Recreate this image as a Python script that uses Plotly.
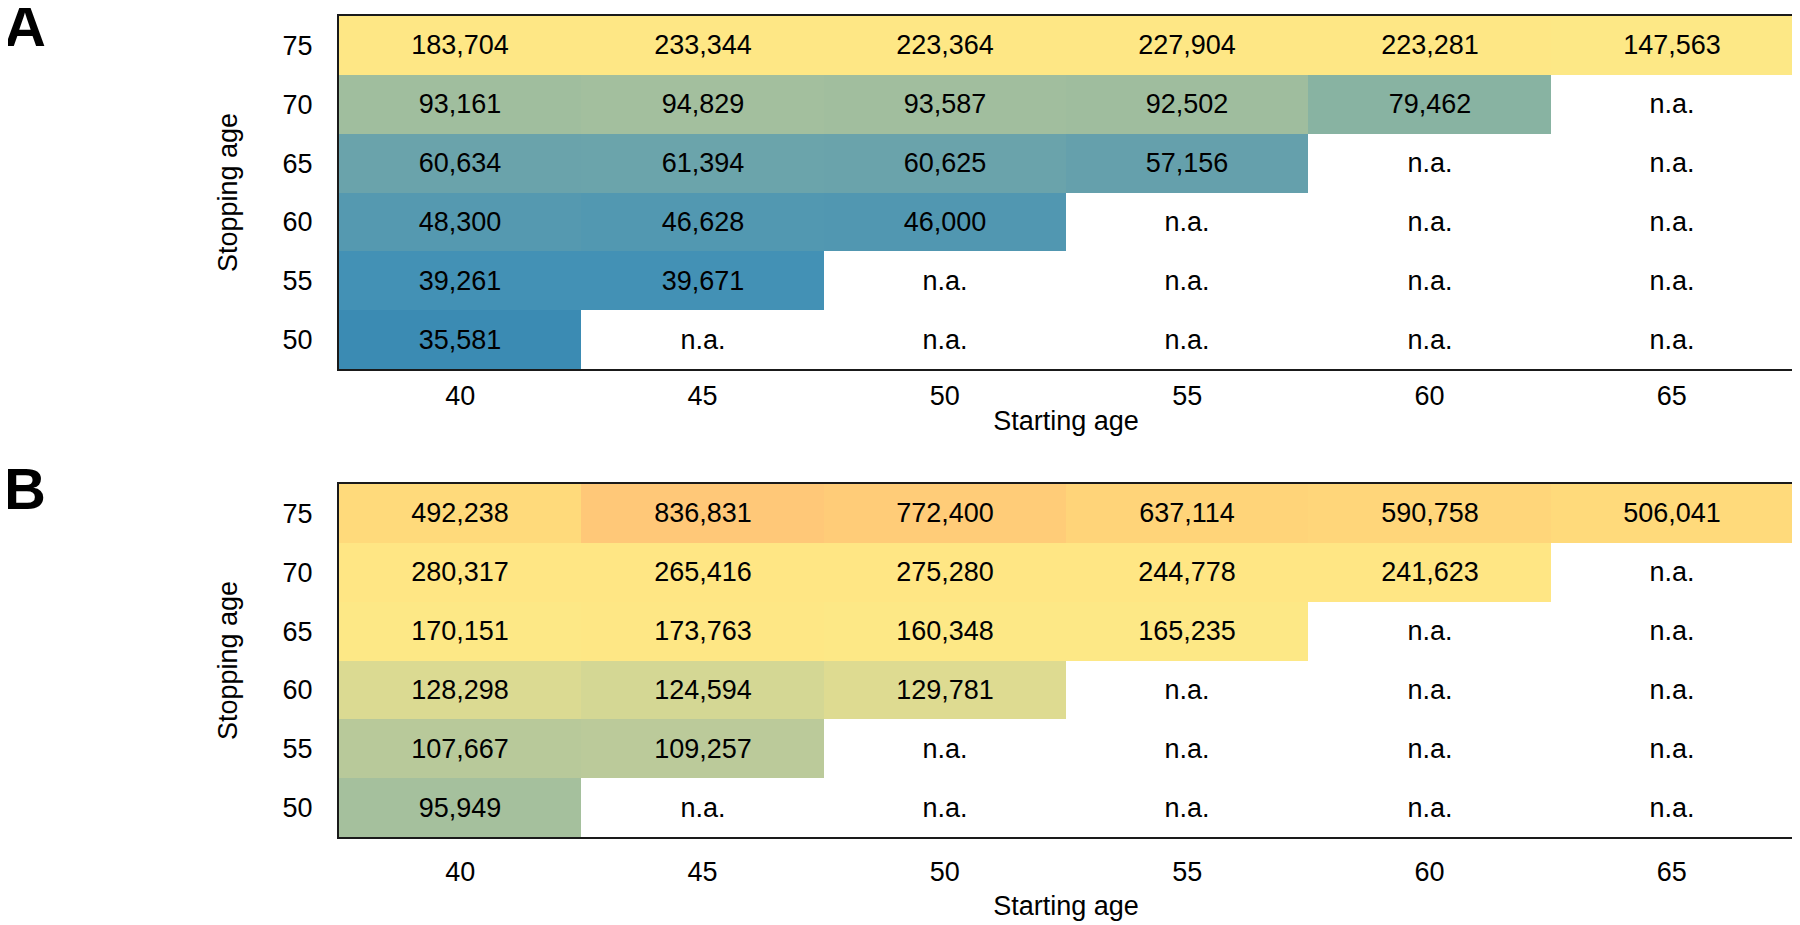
import numpy as np
import plotly.graph_objects as go

# ages
start_ages = ["40", "45", "50", "55", "60", "65"]
stop_ages = ["50", "55", "60", "65", "70", "75"]

# panel A values (rows = stopping age 50..75, cols = starting age 40..65)
a_50 = [35581, None, None, None, None, None]
a_55 = [39261, 39671, None, None, None, None]
a_60 = [48300, 46628, 46000, None, None, None]
a_65 = [60634, 61394, 60625, 57156, None, None]
a_70 = [93161, 94829, 93587, 92502, 79462, None]
a_75 = [183704, 233344, 223364, 227904, 223281, 147563]

# panel B values
b_50 = [95949, None, None, None, None, None]
b_55 = [107667, 109257, None, None, None, None]
b_60 = [128298, 124594, 129781, None, None, None]
b_65 = [170151, 173763, 160348, 165235, None, None]
b_70 = [280317, 265416, 275280, 244778, 241623, None]
b_75 = [492238, 836831, 772400, 637114, 590758, 506041]

panel_a = [a_50, a_55, a_60, a_65, a_70, a_75]
panel_b = [b_50, b_55, b_60, b_65, b_70, b_75]

# log colour scale shared by both panels
zmin, zmax = np.log10(35000), np.log10(840000)
anchors = [
    (35000, "#3a8ab3"), (39500, "#4391b5"), (47000, "#5398b1"),
    (60600, "#6aa3ab"), (79462, "#88b3a2"), (93500, "#a1be9e"),
    (108000, "#b9c99a"), (127000, "#d8d993"), (145000, "#fde886"),
    (280000, "#ffe684"), (500000, "#ffda7b"), (636000, "#ffd479"),
    (840000, "#ffc878"),
]
colorscale = [[(np.log10(v) - zmin) / (zmax - zmin), c] for v, c in anchors]
colorscale[0][0] = 0.0
colorscale[-1][0] = 1.0

FONT = "Liberation Sans, Arial, sans-serif"
FS = 27

# page is drawn with the browser's 8px body margin, so the figure is 8px smaller
W, H = 1792, 917


def make_trace(rows, xa, ya):
    z = [[np.log10(v) if v is not None else None for v in r] for r in rows]
    txt = [[f"{v:,}" if v is not None else "n.a." for v in r] for r in rows]
    return go.Heatmap(
        x=start_ages, y=stop_ages, z=z, text=txt,
        texttemplate="%{text}", textfont=dict(size=FS, color="black", family=FONT),
        colorscale=colorscale, zmin=zmin, zmax=zmax, showscale=False,
        hoverinfo="skip", xaxis=xa, yaxis=ya,
    )


fig = go.Figure()
fig.add_trace(make_trace(panel_a, "x", "y"))
fig.add_trace(make_trace(panel_b, "x2", "y2"))

ax_common = dict(
    type="category", showline=True, mirror=True, linecolor="#1a1a1a", linewidth=2,
    showgrid=False, zeroline=False, ticks="",
    tickfont=dict(size=FS, color="black", family=FONT),
)
xdom = [331 / W, 1785 / W]

fig.update_layout(
    width=W, height=H,
    margin=dict(l=0, r=0, t=0, b=0),
    paper_bgcolor="white", plot_bgcolor="white",
    font=dict(family=FONT, color="black"),
    xaxis=dict(ax_common, domain=xdom, anchor="y", ticklabelstandoff=2,
               title=dict(text="Starting age", font=dict(size=FS), standoff=1)),
    yaxis=dict(ax_common, domain=[1 - 361 / H, 1 - 8 / H], anchor="x", ticklabelstandoff=19,
               title=dict(text="Stopping age", font=dict(size=FS), standoff=37)),
    xaxis2=dict(ax_common, domain=xdom, anchor="y2", ticklabelstandoff=10,
                title=dict(text="Starting age", font=dict(size=FS), standoff=10)),
    yaxis2=dict(ax_common, domain=[1 - 829 / H, 1 - 476 / H], anchor="x2", ticklabelstandoff=19,
                title=dict(text="Stopping age", font=dict(size=FS), standoff=37)),
    annotations=[
        dict(text="<b>A</b>", x=17 / W, y=1 - 18 / H, xref="paper", yref="paper", xanchor="center",
             yanchor="middle", showarrow=False, font=dict(size=58, family=FONT, color="black")),
        dict(text="<b>B</b>", x=17 / W, y=1 - 480 / H, xref="paper", yref="paper", xanchor="center",
             yanchor="middle", showarrow=False, font=dict(size=58, family=FONT, color="black")),
    ],
)

fig.write_html("out.html")
